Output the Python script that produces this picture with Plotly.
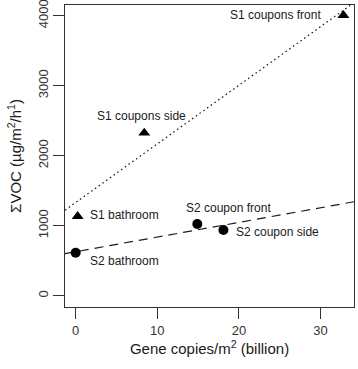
import numpy as np
import plotly.graph_objects as go

# ---- data ----
s1_labels = ["S1 bathroom", "S1 coupons side", "S1 coupons front"]
s1_x = [0.24, 8.4, 32.8]
s1_y = [1135, 2325, 4005]

s2_labels = ["S2 bathroom", "S2 coupon front", "S2 coupon side"]
s2_x = [0.0, 14.9, 18.1]
s2_y = [614, 1024, 939]

x_ticks = [0, 10, 20, 30]
y_ticks = [0, 1000, 2000, 3000, 4000]

# ---- layout constants ----
X_RANGE = [-1.31, 34.1]
Y_RANGE = [-161, 4153]
FONT = "Liberation Sans, Arial, Helvetica, sans-serif"
INK = "#1a1a1a"

# label placement (style): (xanchor, xshift, yshift)
s1_label_pos = [("left", 10, 1), ("center", -3, 17), ("right", -20, 0)]
s2_label_pos = [("left", 12, -8), ("center", 31, 16), ("left", 11, -2)]

fig = go.Figure()

# regression lines through each series (computed from data)
xl = np.array(X_RANGE)
for xs, ys, dash in [(s1_x, s1_y, "1.6px,3px"), (s2_x, s2_y, "9px,6px")]:
    m, b = np.polyfit(xs, ys, 1)
    fig.add_trace(go.Scatter(x=xl, y=m * xl + b, mode="lines",
                             line=dict(color=INK, width=1.2, dash=dash),
                             hoverinfo="skip", showlegend=False))

fig.add_trace(go.Scatter(x=s1_x, y=s1_y, mode="markers",
                         marker=dict(symbol="triangle-up", size=10.5, color="black"),
                         showlegend=False, cliponaxis=False))
fig.add_trace(go.Scatter(x=s2_x, y=s2_y, mode="markers",
                         marker=dict(symbol="circle", size=10, color="black"),
                         showlegend=False, cliponaxis=False))

for xs, ys, labs, pos in [(s1_x, s1_y, s1_labels, s1_label_pos),
                          (s2_x, s2_y, s2_labels, s2_label_pos)]:
    for xv, yv, lab, (anc, dx, dy) in zip(xs, ys, labs, pos):
        fig.add_annotation(x=xv, y=yv, text=lab, showarrow=False,
                           xanchor=anc, yanchor="middle", xshift=dx, yshift=dy,
                           font=dict(family=FONT, size=12, color=INK))

axis_common = dict(showline=True, mirror=True, linecolor="#333", linewidth=1.2,
                   ticks="outside", ticklen=11, tickcolor="#333", tickwidth=1.2,
                   showgrid=False, zeroline=False, automargin=False,
                   ticklabeloverflow="allow",
                   tickfont=dict(family=FONT, size=13, color="#333"))

fig.update_layout(
    width=358, height=369,
    margin=dict(l=65, r=4, t=5, b=62),
    paper_bgcolor="white", plot_bgcolor="white",
    xaxis=dict(range=X_RANGE, tickvals=x_ticks, **axis_common,
               title=dict(text="Gene copies/m<sup>2</sup> (billion)",
                          font=dict(family=FONT, size=15, color=INK), standoff=4)),
    yaxis=dict(range=Y_RANGE, tickvals=y_ticks, tickangle=-90, **axis_common,
               title=dict(text="ΣVOC (µg/m<sup>2</sup>/h<sup>1</sup>)",
                          font=dict(family=FONT, size=15, color=INK), standoff=10)),
)

fig.write_html("out.html", config={"displayModeBar": False},
               post_script="document.body.style.margin='0';document.body.style.overflow='hidden';")
